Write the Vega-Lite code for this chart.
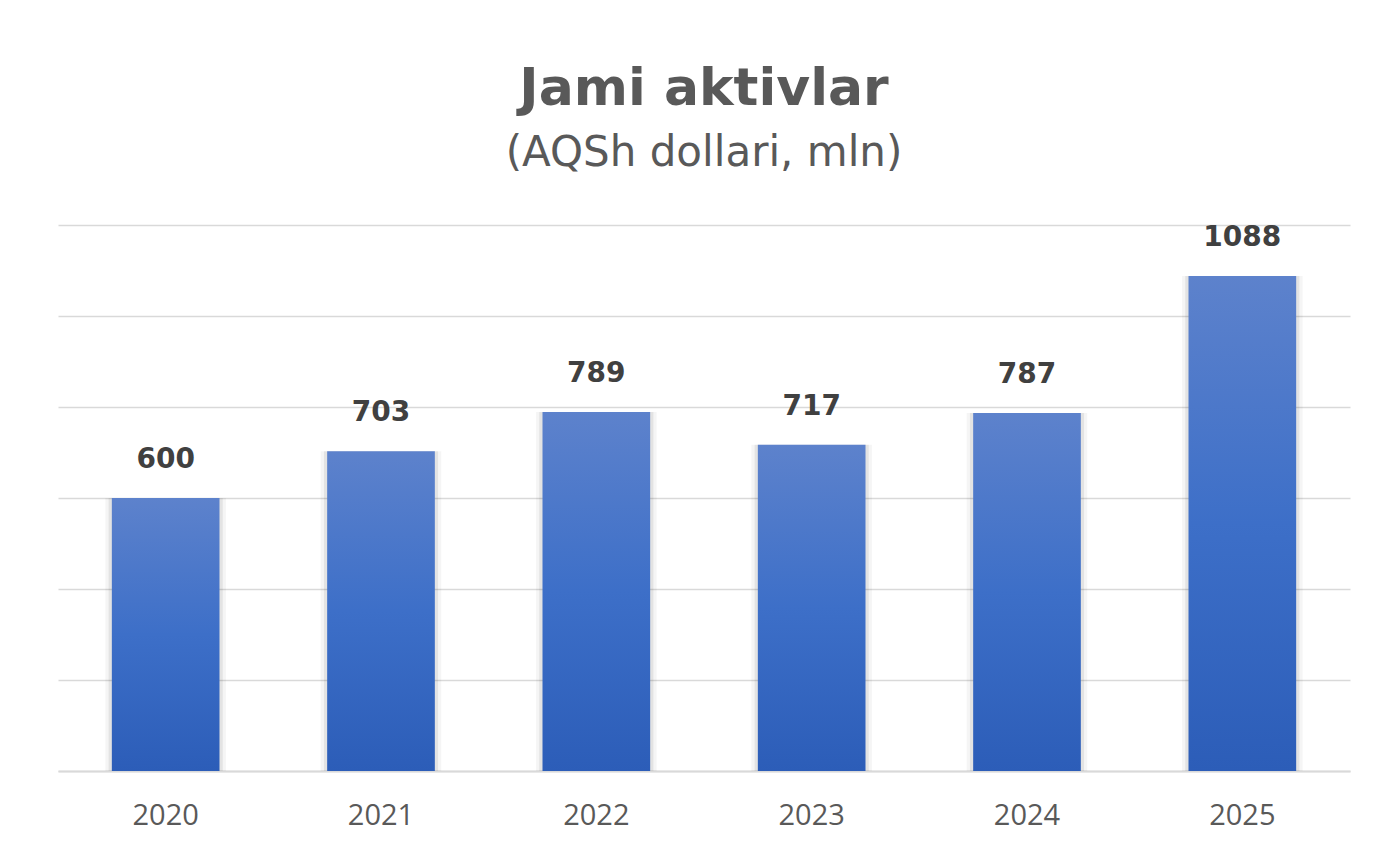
{
  "$schema": "https://vega.github.io/schema/vega-lite/v6.json",
  "width": 1292,
  "height": 546,
  "padding": {"left": 58, "right": 30, "top": 62, "bottom": 5},
  "background": "white",
  "title": {
    "text": "Jami aktivlar",
    "subtitle": "(AQSh dollari, mln)",
    "anchor": "middle",
    "font": "DejaVu Sans",
    "fontSize": 52,
    "fontWeight": "bold",
    "color": "#595959",
    "subtitleFont": "DejaVu Sans",
    "subtitleFontSize": 42,
    "subtitleFontWeight": "normal",
    "subtitleColor": "#595959",
    "subtitlePadding": 17,
    "offset": 49
  },
  "data": {
    "values": [
      {"year": "2020", "value": 600},
      {"year": "2021", "value": 703},
      {"year": "2022", "value": 789},
      {"year": "2023", "value": 717},
      {"year": "2024", "value": 787},
      {"year": "2025", "value": 1088}
    ]
  },
  "encoding": {
    "x": {
      "field": "year",
      "type": "ordinal",
      "scale": {"paddingInner": 0.5, "paddingOuter": 0.25},
      "axis": {
        "title": null,
        "labelAngle": 0,
        "labelFont": "Open Sans",
        "labelFontSize": 29,
        "labelColor": "#595959",
        "labelPadding": 30,
        "ticks": false,
        "domainColor": "#d9d9d9",
        "domainWidth": 2
      }
    },
    "y": {
      "field": "value",
      "type": "quantitative",
      "scale": {"domain": [0, 1200], "nice": false},
      "axis": {
        "title": null,
        "labels": false,
        "ticks": false,
        "domain": false,
        "values": [0, 200, 400, 600, 800, 1000, 1200],
        "gridColor": "#d9d9d9",
        "gridWidth": 1.5
      }
    }
  },
  "layer": [
    {
      "mark": {"type": "bar", "color": "#000000", "opacity": 0.04, "width": {"band": 1.12}}
    },
    {
      "mark": {"type": "bar", "color": "#000000", "opacity": 0.07, "width": {"band": 1.06}}
    },
    {
      "mark": {
        "type": "bar",
        "width": {"band": 1},
        "color": {
          "gradient": "linear",
          "x1": 0, "y1": 0, "x2": 0, "y2": 1,
          "stops": [
            {"offset": 0, "color": "#5d82cc"},
            {"offset": 0.5, "color": "#3d6fc8"},
            {"offset": 1, "color": "#2c5db8"}
          ]
        }
      }
    },
    {
      "mark": {
        "type": "text",
        "font": "DejaVu Sans",
        "fontSize": 28,
        "fontWeight": "bold",
        "color": "#404040",
        "baseline": "alphabetic",
        "dy": -30
      },
      "encoding": {"text": {"field": "value", "type": "quantitative"}}
    }
  ],
  "config": {
    "view": {"stroke": null}
  }
}
